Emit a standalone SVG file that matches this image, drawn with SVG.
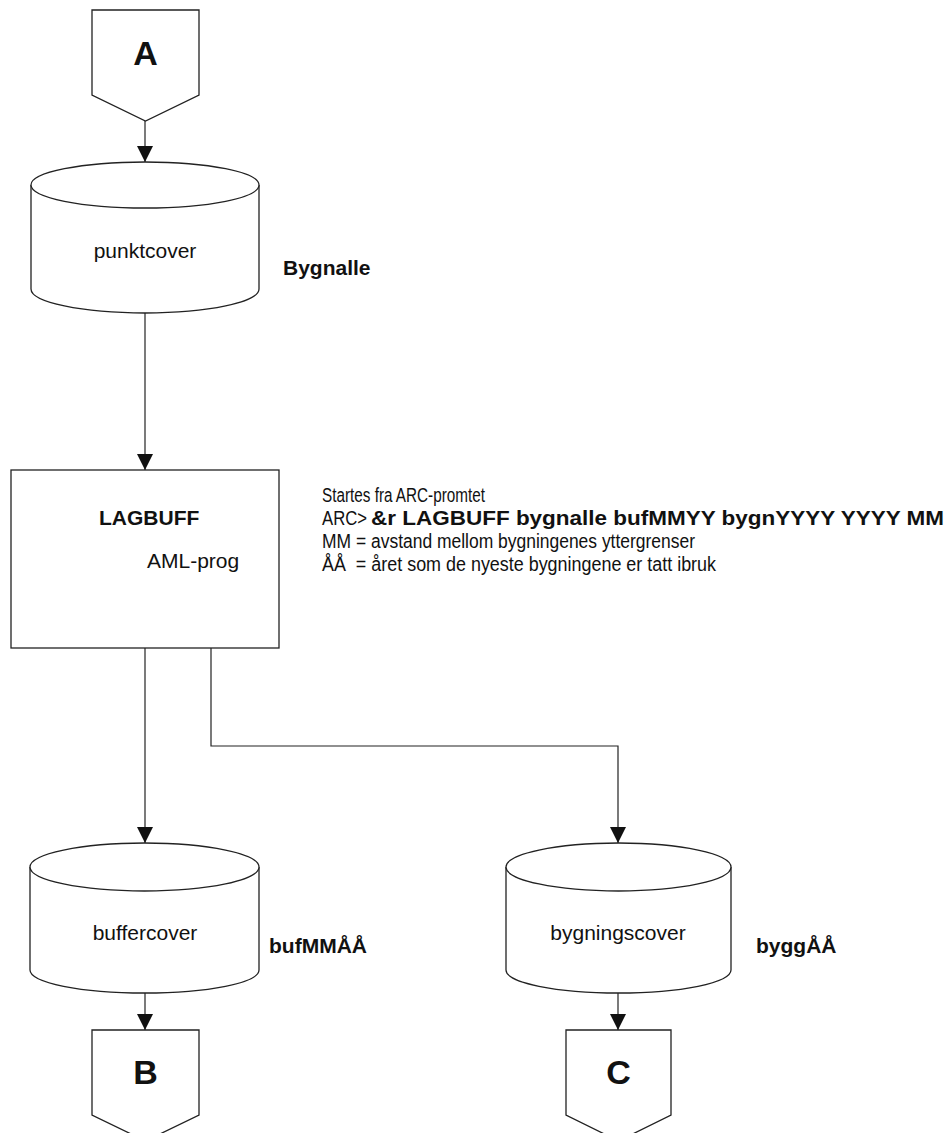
<svg xmlns="http://www.w3.org/2000/svg" width="951" height="1133" viewBox="0 0 951 1133">
<style>
  .shape { fill: #ffffff; stroke: #222; stroke-width: 1.3; }
  .conn { fill: none; stroke: #222; stroke-width: 1.2; }
  .t { font-family: "Liberation Sans", Arial, sans-serif; font-size: 21px; fill: #111; }
  .b { font-weight: bold; }
  .big { font-family: "Liberation Sans", Arial, sans-serif; font-size: 34px; font-weight: bold; fill: #111; text-anchor: middle; }
  .ann { font-family: "Liberation Sans", Arial, sans-serif; font-size: 20px; fill: #111; }
</style>
<defs>
  <marker id="arrow" markerUnits="userSpaceOnUse" markerWidth="16" markerHeight="17" refX="16" refY="8" orient="auto">
    <path d="M0,0 L16,8 L0,16 Z" fill="#111"/>
  </marker>
</defs>
<rect width="951" height="1133" fill="#ffffff"/>

<g id="connectors">
  <line class="conn" x1="145" y1="121" x2="145" y2="162" marker-end="url(#arrow)"/>
  <line class="conn" x1="145" y1="313" x2="145" y2="470" marker-end="url(#arrow)"/>
  <line class="conn" x1="145" y1="648" x2="145" y2="843" marker-end="url(#arrow)"/>
  <polyline class="conn" points="211,648 211,746 618,746 618,843" marker-end="url(#arrow)"/>
  <line class="conn" x1="145" y1="993" x2="145" y2="1030" marker-end="url(#arrow)"/>
  <line class="conn" x1="618" y1="993" x2="618" y2="1030" marker-end="url(#arrow)"/>
</g>

<g id="node-A">
  <path class="shape" d="M92,10 L199,10 L199,95 L145.5,121 L92,95 Z"/>
  <text class="big" x="145.5" y="65">A</text>
</g>

<g id="node-punktcover">
  <path class="shape" d="M31,185 L31,289 A114,24 0 0 0 259,289 L259,185"/>
  <ellipse class="shape" cx="145" cy="185" rx="114" ry="23"/>
  <text class="t" x="145" y="258" text-anchor="middle">punktcover</text>
</g>
<text class="t b" x="283" y="275">Bygnalle</text>

<g id="node-LAGBUFF">
  <rect class="shape" x="11" y="470" width="268" height="178"/>
  <text class="t b" x="99" y="525">LAGBUFF</text>
  <text class="t" x="147" y="568">AML-prog</text>
</g>

<g id="annotation">
  <text class="ann" x="322" y="502" textLength="163" lengthAdjust="spacingAndGlyphs">Startes fra ARC-promtet</text>
  <text class="ann" x="322" y="525" textLength="45" lengthAdjust="spacingAndGlyphs">ARC&gt;</text>
  <text class="ann b" x="371" y="525" textLength="573" lengthAdjust="spacingAndGlyphs">&amp;r LAGBUFF bygnalle bufMMYY bygnYYYY YYYY MM</text>
  <text class="ann" x="322" y="548" textLength="373" lengthAdjust="spacingAndGlyphs">MM = avstand mellom bygningenes yttergrenser</text>
  <text class="ann" x="322" y="571" textLength="394" lengthAdjust="spacingAndGlyphs" style="white-space:pre">ÅÅ  = året som de nyeste bygningene er tatt ibruk</text>
</g>

<g id="node-buffercover">
  <path class="shape" d="M30,867 L30,970 A114.5,23 0 0 0 259,970 L259,867"/>
  <ellipse class="shape" cx="144.5" cy="867" rx="114.5" ry="24"/>
  <text class="t" x="145" y="940" text-anchor="middle">buffercover</text>
</g>
<text class="t b" x="269" y="953">bufMMÅÅ</text>

<g id="node-bygningscover">
  <path class="shape" d="M506,867 L506,970 A112.5,23 0 0 0 731,970 L731,867"/>
  <ellipse class="shape" cx="618.5" cy="867" rx="112.5" ry="24"/>
  <text class="t" x="618" y="940" text-anchor="middle">bygningscover</text>
</g>
<text class="t b" x="756" y="953">byggÅÅ</text>

<g id="node-B">
  <path class="shape" d="M92,1030 L199,1030 L199,1115 L145.5,1141 L92,1115 Z"/>
  <text class="big" x="145.5" y="1084">B</text>
</g>

<g id="node-C">
  <path class="shape" d="M566,1030 L671,1030 L671,1115 L618.5,1141 L566,1115 Z"/>
  <text class="big" x="618.5" y="1084">C</text>
</g>
</svg>
